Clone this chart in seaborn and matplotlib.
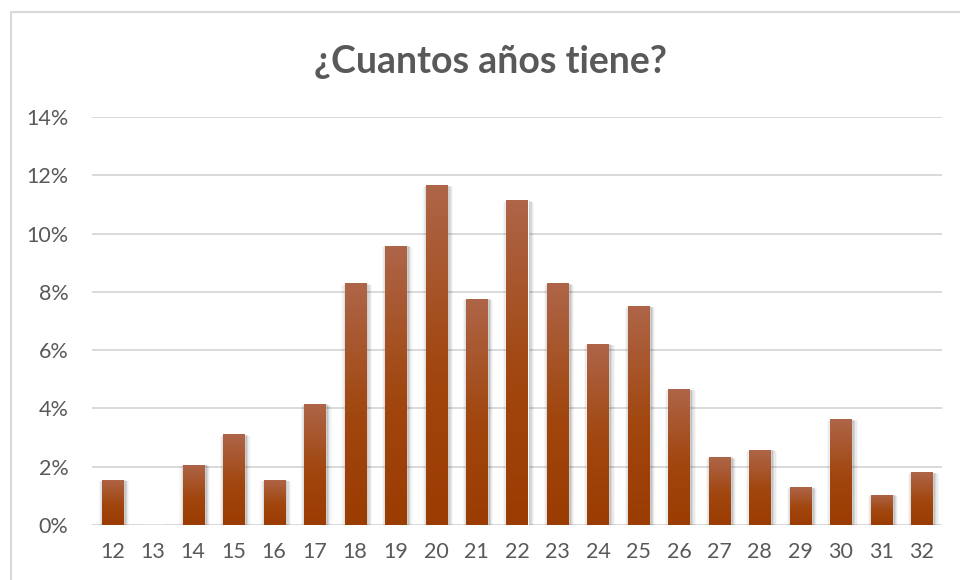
import numpy as np
import matplotlib
matplotlib.use('Agg')
import matplotlib.pyplot as plt
import seaborn as sns
from matplotlib.colors import LinearSegmentedColormap
from matplotlib.patches import Rectangle
from matplotlib.ticker import FuncFormatter

# Edad declarada y porcentaje de respuestas
edades = ['12', '13', '14', '15', '16', '17', '18', '19', '20', '21', '22',
          '23', '24', '25', '26', '27', '28', '29', '30', '31', '32']
porcentajes = [1.55, 0.0, 2.07, 3.11, 1.55, 4.15, 8.29, 9.59, 11.66, 7.77, 11.14,
               8.29, 6.22, 7.51, 4.66, 2.33, 2.59, 1.30, 3.63, 1.04, 1.81]
marcas_y = [0, 2, 4, 6, 8, 10, 12, 14]

gris = '#595959'

sns.set_theme(style='white')
plt.rcParams['font.family'] = ['Lato', 'DejaVu Sans']

fig = plt.figure(figsize=(9.6, 5.8), dpi=100)
ax = fig.add_axes([92 / 960, 55 / 580, 850 / 960, 408 / 580])

sns.barplot(x=edades, y=porcentajes, color='#A0450F', saturation=1,
            width=0.52, ax=ax, zorder=3)

# degradado vertical en cada barra (claro arriba, oscuro abajo)
cmap = LinearSegmentedColormap.from_list(
    'barra', [(0, '#9B3C02'), (0.45, '#A1460E'), (1, '#AE6548')])
grad = np.linspace(0, 1, 256).reshape(-1, 1)
for p in list(ax.patches):
    x0, w, h = p.get_x(), p.get_width(), p.get_height()
    if h <= 0:
        continue
    # sombra suave
    for k, a in enumerate([0.10, 0.07, 0.05, 0.03]):
        dx = (k + 1) * 1.2 / 40.5
        dy = (k + 1) * 1.0 / 29.1
        ax.add_patch(Rectangle((x0 - dx + 0.04, -dy), w + 2 * dx, h + dy * 0.6,
                               facecolor='black', edgecolor='none', alpha=a, zorder=2))
    im = ax.imshow(grad, cmap=cmap, extent=[x0, x0 + w, 0, h], origin='lower',
                   aspect='auto', zorder=4)
    im.set_clip_path(p)

ax.set_xlim(-0.5, len(edades) - 0.5)
ax.set_ylim(0, 14)
ax.set_yticks(marcas_y)
ax.yaxis.set_major_formatter(FuncFormatter(lambda v, _: f'{v:.0f}%'))
ax.yaxis.grid(True, color='#D9D9D9', linewidth=1.4)
ax.set_axisbelow(True)
for s in ax.spines.values():
    s.set_visible(False)
ax.set_xlabel('')
ax.set_ylabel('')
ax.tick_params(axis='y', length=0, labelsize=15.5, colors=gris, pad=17)
ax.tick_params(axis='x', length=0, labelsize=15.5, colors=gris, pad=12)

fig.text(491 / 960, 1 - 62 / 580, '¿Cuantos años tiene?', ha='center', va='center',
         fontsize=27, fontweight='bold', color=gris)

# marco del gráfico
fig.add_artist(Rectangle((11 / 960, -0.1), 1.0, 1 - 12 / 580 + 0.1,
                         transform=fig.transFigure, fill=False,
                         edgecolor='#D9D9D9', linewidth=1.5))

fig.savefig('out.png', dpi=100)
